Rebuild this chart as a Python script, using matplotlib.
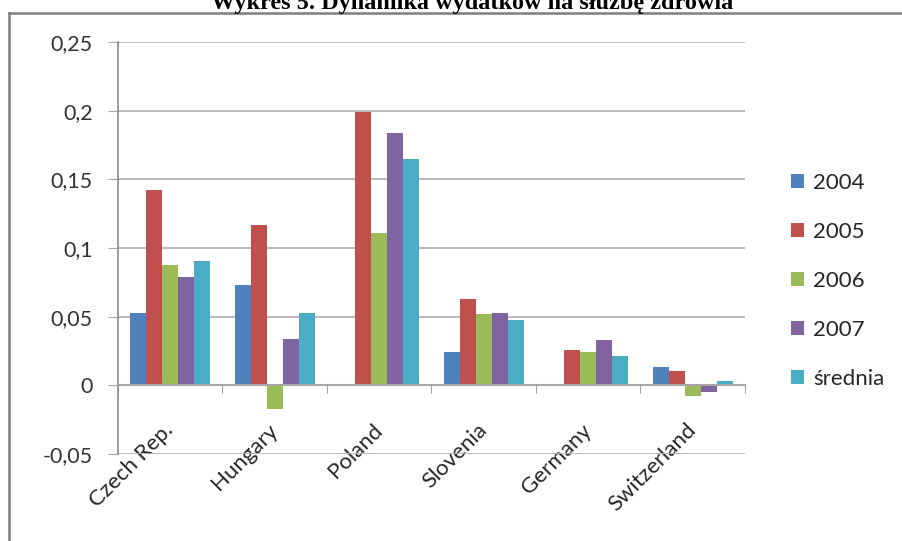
import numpy as np
import matplotlib.pyplot as plt
from matplotlib.lines import Line2D

plt.rcParams['font.family'] = ['Lato', 'DejaVu Sans']

countries = ['Czech Rep.', 'Hungary', 'Poland', 'Slovenia', 'Germany', 'Switzerland']
series_names = ['2004', '2005', '2006', '2007', 'średnia']
v2004 = [0.0525, 0.073, 0.0, 0.0245, 0.0, 0.0137]
v2005 = [0.142, 0.117, 0.199, 0.0627, 0.0255, 0.0107]
v2006 = [0.0875, -0.017, 0.111, 0.052, 0.0245, -0.008]
v2007 = [0.079, 0.0335, 0.184, 0.0525, 0.033, -0.005]
vmean = [0.0906, 0.0525, 0.165, 0.0475, 0.021, 0.0035]
yticks = [-0.05, 0, 0.05, 0.1, 0.15, 0.2, 0.25]
ytick_labels = ['-0,05', '0', '0,05', '0,1', '0,15', '0,2', '0,25']

colors = ['#4F81BD', '#C0504D', '#9BBB59', '#8064A2', '#4BACC6']
series = [v2004, v2005, v2006, v2007, vmean]

fig = plt.figure(figsize=(9.03, 5.41), dpi=100)
ax = fig.add_axes([118/903, 1-454/541, (745-118)/903, (454-42)/541])

x = np.arange(len(countries))
w = 1/6.5
for j, (vals, c, name) in enumerate(zip(series, colors, series_names)):
    ax.bar(x + (j-2)*w, vals, w, color=c, label=name, zorder=3)

ax.set_xlim(-0.5, 5.5)
ax.set_ylim(-0.05, 0.25)
ax.set_yticks(yticks)
ax.set_yticklabels(ytick_labels)
ax.grid(axis='y', color='#B4B4B4', lw=1.3, zorder=0)

for s in ['top', 'right']:
    ax.spines[s].set_visible(False)
ax.spines['left'].set_color('#8C8C8C')
ax.spines['left'].set_linewidth(1.2)
ax.spines['bottom'].set_position(('data', 0))
ax.spines['bottom'].set_color('#A6A6A6')
ax.spines['bottom'].set_linewidth(1.5)
ax.spines['bottom'].set_zorder(4)

ax.set_xticks(x)
ax.set_xticks(np.arange(-0.5, 6, 1), minor=True)
ax.set_xticklabels(countries, rotation=45, ha='right', rotation_mode='anchor', va='center')
ax.tick_params(axis='x', which='major', length=0, pad=30, labelsize=16, labelcolor='#262626')
ax.tick_params(axis='x', which='minor', length=6, color='#8C8C8C', direction='out')
ax.tick_params(axis='y', length=7, color='#A6A6A6', pad=11, labelsize=15.5, labelcolor='#333333')

leg = ax.legend(loc='center left', bbox_to_anchor=(782/903, 1-281/541), bbox_transform=fig.transFigure,
                frameon=False, fontsize=16, handlelength=0.6, handleheight=0.6,
                handletextpad=0.4, labelspacing=1.3, borderaxespad=0)
for t in leg.get_texts():
    t.set_color('#262626')

# outer frame
fig.add_artist(Line2D([9/903, 9/903], [0, 1-12.5/541], transform=fig.transFigure, color='#7F7F7F', lw=1.8))
fig.add_artist(Line2D([9/903, 1], [1-12.5/541, 1-12.5/541], transform=fig.transFigure, color='#7F7F7F', lw=1.8))

fig.text(472/903, 1-9/541, 'Wykres 5. Dynamika wydatków na służbę zdrowia', ha='center', va='baseline',
         fontsize=17.5, fontweight='bold', family=['Liberation Serif', 'DejaVu Serif'])

fig.savefig('out.png', dpi=100)
